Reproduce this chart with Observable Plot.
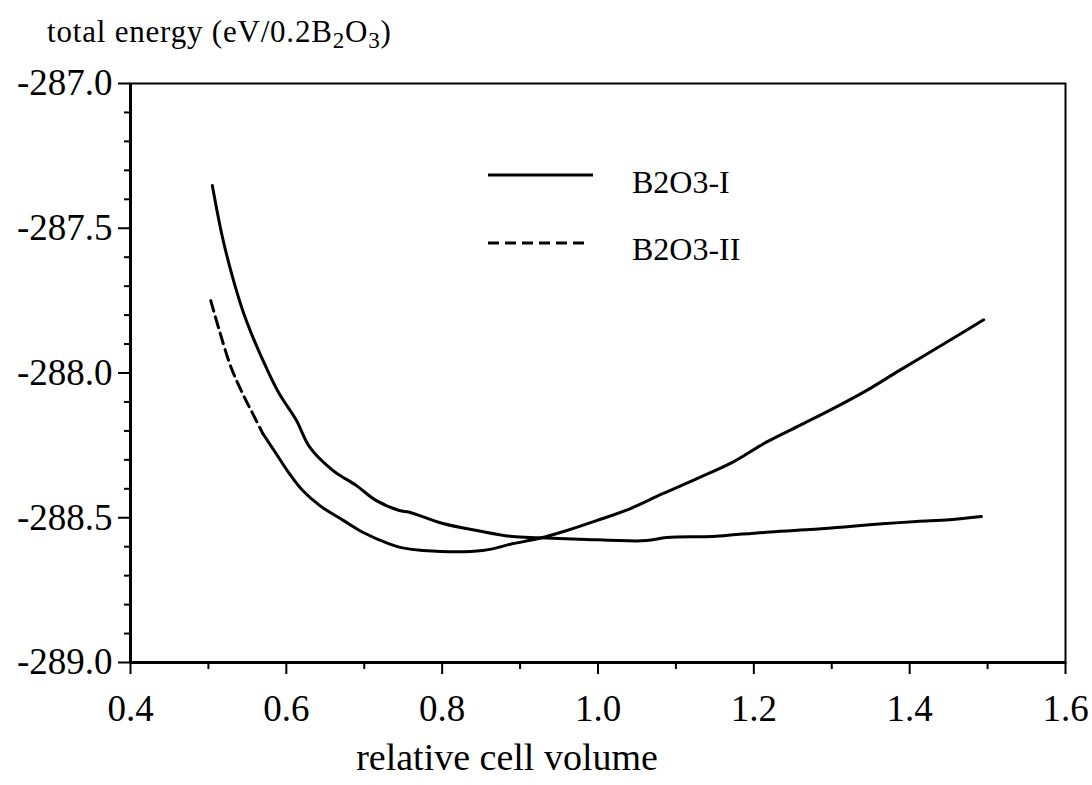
<!DOCTYPE html>
<html>
<head>
<meta charset="utf-8">
<script src="https://cdn.jsdelivr.net/npm/d3@7"></script>
<script src="https://cdn.jsdelivr.net/npm/@observablehq/plot@0.6"></script>
<style>
  html, body { margin: 0; padding: 0; background: white; }
  #wrap { position: relative; width: 1092px; height: 785px; font-family: "Liberation Serif", serif; }
  #legend { position: absolute; left: 0; top: 0; pointer-events: none; }
  svg { display: block; }
</style>
</head>
<body>
<div id="wrap">
  <svg id="head" width="1092" height="60" font-family="Liberation Serif" fill="black">
    <text x="47" y="42" font-size="31" letter-spacing="0.8">total energy (eV/0.2B<tspan dy="6" font-size="23">2</tspan><tspan dy="-6">O</tspan><tspan dy="6" font-size="23">3</tspan><tspan dy="-6">)</tspan></text>
  </svg>
  <div id="chart"></div>
  <svg id="legend" width="1092" height="785" font-family="Liberation Serif" font-size="32" fill="black">
    <line x1="488" x2="593" y1="175" y2="175" stroke="black" stroke-width="3"/>
    <text x="632" y="193">B2O3-I</text>
    <line x1="488" x2="588" y1="243" y2="243" stroke="black" stroke-width="3" stroke-dasharray="11,6"/>
    <text x="632" y="260">B2O3-II</text>
  </svg>
</div>
<script>
// tick values
const xDomain = [0.4, 1.6];
const yDomain = [-289.0, -287.0];
const xMajor = [0.4, 0.6, 0.8, 1.0, 1.2, 1.4, 1.6];
const xMinor = [0.5, 0.7, 0.9, 1.1, 1.3, 1.5];
const yMajor = [-289.0, -288.5, -288.0, -287.5, -287.0];
const yMinor = [-288.9, -288.8, -288.7, -288.6, -288.4, -288.3, -288.2, -288.1,
                -287.9, -287.8, -287.7, -287.6, -287.4, -287.3, -287.2, -287.1];

// B2O3-I (solid)
const volI = [0.505, 0.518, 0.531, 0.544, 0.557, 0.574, 0.591, 0.613, 0.630, 0.660,
              0.690, 0.715, 0.745, 0.758, 0.801, 0.848, 0.890, 0.925, 0.976, 1.062,
              1.088, 1.147, 1.178, 1.216, 1.272, 1.323, 1.365, 1.409, 1.451, 1.492];
const energyI = [-287.352, -287.531, -287.669, -287.784, -287.876, -287.980, -288.072, -288.164, -288.256, -288.337,
                 -288.389, -288.440, -288.475, -288.481, -288.520, -288.546, -288.565, -288.569, -288.574, -288.579,
                 -288.568, -288.565, -288.558, -288.550, -288.541, -288.530, -288.521, -288.513, -288.507, -288.496];

// B2O3-II (dashed at the start)
const volII = [0.503, 0.514, 0.529, 0.544, 0.557, 0.570, 0.587, 0.604, 0.621, 0.643,
               0.673, 0.698, 0.732, 0.749, 0.775, 0.852, 0.890, 0.925, 0.960, 0.998,
               1.041, 1.083, 1.127, 1.173, 1.216, 1.259, 1.301, 1.345, 1.387, 1.451, 1.495];
const energyII = [-287.750, -287.853, -287.980, -288.072, -288.141, -288.210, -288.279, -288.348, -288.406, -288.458,
                  -288.509, -288.550, -288.590, -288.604, -288.613, -288.613, -288.590, -288.571, -288.544, -288.510,
                  -288.469, -288.417, -288.365, -288.308, -288.239, -288.181, -288.124, -288.060, -287.991, -287.888, -287.816];
const dashEndII = 0.570;

const dataI = volI.map((v, i) => ({v, e: energyI[i]}));
const dataII = volII.map((v, i) => ({v, e: energyII[i]}));

const fmt = d => d.toFixed(1);

const chart = Plot.plot({
  width: 1092,
  height: 725,
  marginTop: 23,
  marginBottom: 123,
  marginLeft: 130,
  marginRight: 27,
  x: {domain: xDomain, label: null},
  y: {domain: yDomain, label: null},
  style: {fontFamily: "Liberation Serif", fontSize: "37px", color: "black", background: "white", overflow: "visible"},
  marks: [
    Plot.frame({stroke: "black", strokeWidth: 2}),
    Plot.ruleX([xDomain[0]], {stroke: "black", strokeWidth: 3}),
    Plot.ruleY([yDomain[0]], {stroke: "black", strokeWidth: 3}),
    Plot.axisX({ticks: xMajor, tickSize: 12, tickPadding: 20, tickFormat: fmt, strokeWidth: 2, label: null, fontSize: 37}),
    Plot.axisX({ticks: xMinor, tickSize: 7, tickFormat: () => "", strokeWidth: 2, label: null}),
    Plot.axisY({ticks: yMajor, tickSize: 12, tickPadding: 6, tickFormat: fmt, strokeWidth: 2, label: null, fontSize: 37}),
    Plot.axisY({ticks: yMinor, tickSize: 6, tickFormat: () => "", strokeWidth: 2, label: null}),
    Plot.text(["relative cell volume"], {text: d => d, frameAnchor: "bottom", dx: -91, dy: 107, fontSize: 38}),
    Plot.line(dataI, {x: "v", y: "e", stroke: "black", strokeWidth: 3, curve: "catmull-rom"}),
    Plot.line(dataII, {filter: d => d.v <= dashEndII, x: "v", y: "e", stroke: "black", strokeWidth: 3, strokeDasharray: "11,6", curve: "catmull-rom"}),
    Plot.line(dataII, {filter: d => d.v >= dashEndII, x: "v", y: "e", stroke: "black", strokeWidth: 3, curve: "catmull-rom"})
  ]
});
document.getElementById("chart").appendChild(chart);
</script>
</body>
</html>
